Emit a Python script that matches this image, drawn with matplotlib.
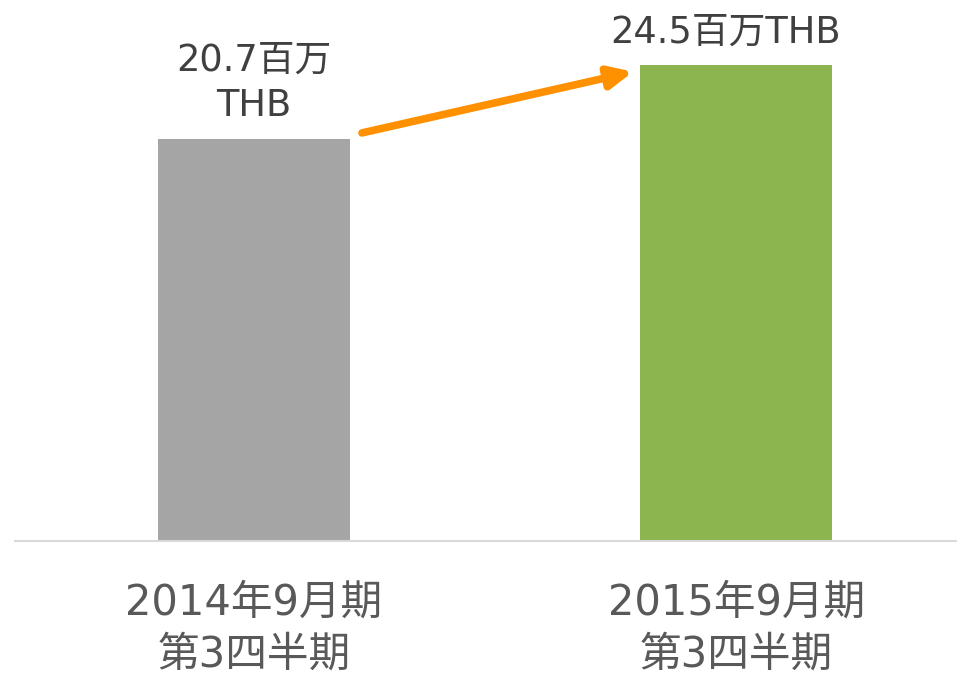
import matplotlib
matplotlib.use("Agg")
import matplotlib.pyplot as plt

categories = ["2014年9月期\n第3四半期", "2015年9月期\n第3四半期"]
values = [20.7, 24.5]
value_labels = ["20.7百万\nTHB", "24.5百万THB"]
label_dx = [0, -8]  # horizontal nudge of the value labels, points
colors = ["#A5A5A5", "#8CB44F"]

FAM = ["DejaVu Sans", "Noto Sans CJK JP"]
plt.rcParams["font.family"] = FAM

fig = plt.figure(figsize=(9.57, 6.75), dpi=100)
ax = fig.add_axes([15/957, 134/675, 942/957, 541/675])

x = list(range(len(categories)))
bw = 0.398
ax.bar(x, values, width=bw, color=colors, zorder=2)

ax.set_xlim(-0.495, 1.457)
ax.set_ylim(0, 27.84)

for s in ["top", "right", "left"]:
    ax.spines[s].set_visible(False)
ax.spines["bottom"].set_color("#D9D9D9")
ax.spines["bottom"].set_linewidth(1.5)
ax.set_yticks([])
ax.set_xticks(x)
ax.set_xticklabels(categories, fontsize=30, color="#595959", linespacing=1.3)
ax.tick_params(axis="x", length=0, pad=29)

for xi, v, lab, dx in zip(x, values, value_labels, label_dx):
    ax.annotate(lab, xy=(xi, v), xytext=(dx, 10.5), textcoords="offset points",
                ha="center", va="bottom", fontsize=26.5, color="#404040",
                linespacing=1.28)

# growth arrow from bar 1 to bar 2
ax.annotate("", xy=(x[1] - bw/2 - 0.015, values[1] - 0.35),
            xytext=(x[0] + bw/2 + 0.025, values[0] + 0.3),
            arrowprops=dict(arrowstyle="-|>,head_length=1.4,head_width=0.65",
                            color="#FF9100", lw=5.5, shrinkA=0, shrinkB=0),
            zorder=3)

fig.savefig("out.png", dpi=100)
